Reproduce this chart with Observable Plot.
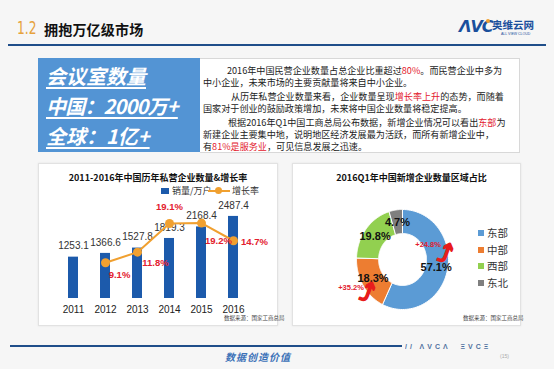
<!DOCTYPE html>
<html><head><meta charset="utf-8">
<script src="https://cdn.jsdelivr.net/npm/d3@7"></script>
<script src="https://cdn.jsdelivr.net/npm/@observablehq/plot@0.6"></script>
<style>
body{margin:0;width:554px;height:369px;overflow:hidden;background:#f6f6f6;font-family:"Liberation Sans","Noto Sans CJK SC",sans-serif;position:relative;color:#222}
.abs{position:absolute}
.red{color:#e3202e}
.panel{position:absolute;background:#fff;border:1px solid #e2e2e2;box-shadow:0 0 2px rgba(0,0,0,0.08)}
.tline{position:absolute;left:0;white-space:nowrap;font-size:9.1px;line-height:10px;font-family:"Noto Sans CJK SC",sans-serif}
.big{position:absolute;left:8px;color:#fff;font-weight:bold;font-style:italic;text-decoration:underline;text-decoration-thickness:2px;text-underline-offset:3px;font-size:20px;font-family:"Noto Sans CJK SC",sans-serif;white-space:nowrap;line-height:28px}
.leg{position:absolute;font-size:10.5px;color:#333;font-family:"Noto Sans CJK SC",sans-serif;white-space:nowrap;line-height:12px}
.sw{position:absolute;width:6px;height:6px}
.src{position:absolute;font-size:5.5px;color:#444;white-space:nowrap;font-family:"Noto Sans CJK SC",sans-serif}
</style></head><body>
<!-- header -->
<div class="abs" style="left:17px;top:18px;font-size:17px;color:#e6a23c;font-family:'Liberation Sans Narrow','DejaVu Sans Condensed',sans-serif;transform:scaleX(0.8);transform-origin:left">1.2</div>
<div class="abs" style="left:44px;top:19px;font-size:14px;font-weight:bold;color:#111;font-family:'Noto Sans CJK SC';letter-spacing:0.2px">拥抱万亿级市场</div>
<div class="abs" style="left:459px;top:17px;font-size:16px;font-weight:900;font-style:italic;color:#1a4f9c;letter-spacing:-1px;font-family:'DejaVu Sans'">ΛVC</div>
<div class="abs" style="left:486px;top:19px;width:4px;height:4px;border-radius:2px;background:#f0a030"></div>
<div class="abs" style="left:492px;top:17px;font-size:10.5px;font-weight:bold;color:#1a4f9c;font-family:'Noto Sans CJK SC'">奥维云网</div>
<div class="abs" style="left:501px;top:32px;font-size:3.5px;color:#1a4f9c;white-space:nowrap">ALL VIEW CLOUD</div>
<div class="abs" style="left:8px;top:44px;width:538px;height:2px;background:#1f4e8a"></div>

<!-- blue box -->
<div class="abs" style="left:38px;top:58px;width:162px;height:94px;background:#5394d4">
  <div class="big" style="top:4px">会议室数量</div>
  <div class="big" style="top:34px;letter-spacing:-0.8px">中国：2000万+</div>
  <div class="big" style="top:64px">全球：1亿+</div>
</div>
<!-- text box -->
<div class="abs" style="left:200px;top:58px;width:319px;height:93px;background:#fff;border:1px solid #d8d8d8;border-left:none">
  <div class="tline" style="top:5.5px;left:27px">2016年中国民营企业数量占总企业比重超过<span class="red">80%</span>。而民营企业中多为</div>
  <div class="tline" style="top:17.5px;left:3px">中小企业，未来市场的主要贡献量将来自中小企业。</div>
  <div class="tline" style="top:31.5px;left:31px">从历年私营企业数量来看，企业数量呈现<span class="red">增长率上升</span>的态势，而随着</div>
  <div class="tline" style="top:43.5px;left:3px">国家对于创业的鼓励政策增加，未来将中国企业数量将稳定提高。</div>
  <div class="tline" style="top:57.5px;left:28px">根据2016年Q1中国工商总局公布数据，新增企业情况可以看出<span class="red">东部</span>为</div>
  <div class="tline" style="top:69.5px;left:3px">新建企业主要集中地，说明地区经济发展最为活跃，而所有新增企业中，</div>
  <div class="tline" style="top:81.5px;left:3px">有<span class="red">81%是服务业</span>，可见信息发展之迅速。</div>
</div>

<!-- left panel -->
<div class="panel" id="p1" style="left:38px;top:163px;width:238px;height:161px">
  <div class="abs" style="left:0;width:238px;top:7px;text-align:center;font-size:9px;font-weight:bold;font-family:'Noto Sans CJK SC';color:#111">2011-2016年中国历年私营企业数量&amp;增长率</div>
  <div class="abs" style="left:122px;top:24px;width:8px;height:6px;background:#1c5aab"></div>
  <div class="leg" style="left:133px;top:21px;font-size:9px">销量/万户</div>
  <div class="abs" style="left:169px;top:26px;width:22px;height:2px;background:#f0a030"></div>
  <div class="abs" style="left:176px;top:23px;width:7px;height:7px;border-radius:4px;background:#f0a030"></div>
  <div class="leg" style="left:193px;top:21px;font-size:9px">增长率</div>
  <div class="src" style="left:185px;top:150px">数据来源：国家工商总局</div>
  <div id="bars" class="abs" style="left:0;top:0"></div>
  <div id="line" class="abs" style="left:0;top:0"></div>
</div>

<!-- right panel -->
<div class="panel" id="p2" style="left:292px;top:163px;width:227px;height:161px">
  <div class="abs" style="left:0;width:237px;top:7px;text-align:center;font-size:9px;font-weight:bold;font-family:'Noto Sans CJK SC';color:#111">2016Q1年中国新增企业数量区域占比</div>
  <div id="donut" class="abs" style="left:0;top:0"></div>
  <div id="dleg"></div>
  <div class="src" style="left:170px;top:150px">数据来源：国家工商总局</div>
</div>

<!-- footer -->
<div class="abs" style="left:10px;top:345px;width:392px;height:2px;background:#1f4e8a"></div>
<div class="abs" style="left:405px;top:343px;font-size:7px;font-weight:bold;color:#1f4e8a;letter-spacing:3px;opacity:0.8;white-space:nowrap">// ΛVCΛ &nbsp;ΞVCΞ</div>
<div class="abs" style="left:225px;top:349px;font-size:10px;font-style:italic;font-weight:bold;color:#3d72b8;letter-spacing:1px;font-family:'Noto Sans CJK SC'">数据创造价值</div>
<div class="abs" style="left:500px;top:353px;font-size:5px;color:#aaa">(15)</div>

<script>
// ---- data: bar + line chart ----
const years = ["2011", "2012", "2013", "2014", "2015", "2016"];
const counts = [1253.1, 1366.6, 1527.8, 1819.3, 2168.4, 2487.4];
const rateYears = ["2012", "2013", "2014", "2015", "2016"];
const rates = [9.1, 11.8, 19.1, 19.2, 14.7];
// ---- data: donut ----
const regions = ["东部", "中部", "西部", "东北"];
const shares = [57.1, 18.3, 19.8, 4.7];
const regionColors = ["#5b9bd5", "#ed7d31", "#92d050", "#7f7f7f"];
const growthRegions = ["东部", "中部"];
const growthRates = [24.8, 35.2];

const FONT = "Liberation Sans, Noto Sans CJK SC, sans-serif";
const barData = years.map((year, i) => ({year, count: counts[i]}));
const rateData = rateYears.map((year, i) => ({year, rate: rates[i]}));

const W = 238, H = 161;
const xOpts = {type: "band", domain: years, paddingInner: 0.69, paddingOuter: 0.345};
const base = {width: W, height: H, marginLeft: 18, marginRight: 28, marginTop: 35, marginBottom: 27,
  style: {fontFamily: FONT, background: "transparent", overflow: "visible"}};

const bars = Plot.plot({
  ...base,
  x: {...xOpts, tickSize: 0, tickPadding: 7, label: null, fontSize: 10},
  y: {domain: [0, 3000], axis: null},
  marks: [
    Plot.barY(barData, {x: "year", y: "count", fill: "#1c5aab"}),
    Plot.text(barData, {x: "year", y: "count", text: d => d.count.toFixed(1), dy: -11, fontSize: 10, fill: "#333"})
  ]
});
bars.querySelectorAll('g[aria-label="x-axis tick label"] text, g[aria-label="x-axis"] text').forEach(t => t.setAttribute("font-size", 10));
document.getElementById("bars").appendChild(bars);

const lab = (yr, dx, dy) => Plot.text(rateData.filter(d => d.year === yr), {
  x: "year", y: "rate", text: d => d.rate.toFixed(1) + "%", dx, dy,
  fontSize: 9.5, fontWeight: "bold", fill: "#e3202e"});
const line = Plot.plot({
  ...base,
  x: {...xOpts, axis: null},
  y: {domain: [0, 25.2], axis: null},
  marks: [
    Plot.line(rateData, {x: "year", y: "rate", stroke: "#f0a030", strokeWidth: 2}),
    Plot.dot(rateData, {x: "year", y: "rate", r: 4.5, fill: "#f0a030", stroke: "none"}),
    lab("2012", 14, 12), lab("2013", 18, 11), lab("2014", 0, -17), lab("2015", 17, 18), lab("2016", 21, 1)
  ]
});
document.getElementById("line").appendChild(line);

// ---- donut ----
const arcs = d3.pie().sort(null).value(d => d)(shares);
const R0 = 0.52, R1 = 1;
const polys = [];
arcs.forEach((a, i) => {
  const n = 80;
  for (let k = 0; k <= n; k++) {
    const t = a.startAngle + (a.endAngle - a.startAngle) * k / n;
    polys.push({region: regions[i], x: Math.sin(t) * R1, y: Math.cos(t) * R1});
  }
  for (let k = n; k >= 0; k--) {
    const t = a.startAngle + (a.endAngle - a.startAngle) * k / n;
    polys.push({region: regions[i], x: Math.sin(t) * R0, y: Math.cos(t) * R0});
  }
  polys.push({region: regions[i], x: Math.sin(a.startAngle) * R1, y: Math.cos(a.startAngle) * R1});
});
const labels = arcs.map((a, i) => {
  const m = (a.startAngle + a.endAngle) / 2;
  return {region: regions[i], share: shares[i], x: Math.sin(m) * 0.75, y: Math.cos(m) * 0.75};
});
const growth = growthRegions.map((r, i) => ({...labels.find(l => l.region === r), g: growthRates[i]}));
const gl = (r, dx, dy) => Plot.text(growth.filter(d => d.region === r), {x: "x", y: "y", text: d => "+" + d.g.toFixed(1) + "%", dx, dy, fontSize: 7.5, fontWeight: "bold", fill: "#e3202e"});
const ga = (r, dx, dy, rot) => Plot.text(growth.filter(d => d.region === r), {x: "x", y: "y", text: () => "⤴", dx, dy, rotate: rot, fontSize: 26, fontWeight: "bold", fill: "#e81c1c", stroke: "#e81c1c", strokeWidth: 1.2, fontFamily: "DejaVu Sans"});

const donut = Plot.plot({
  width: 227, height: 161, marginLeft: 63, marginRight: 72, marginTop: 45, marginBottom: 16,
  style: {fontFamily: FONT, background: "transparent", overflow: "visible"},
  x: {domain: [-1, 1], axis: null},
  y: {domain: [-1, 1], axis: null},
  color: {domain: regions, range: regionColors},
  marks: [
    Plot.line(polys, {x: "x", y: "y", z: "region", fill: "region", stroke: "#fff", strokeWidth: 1, curve: "linear"}),
    Plot.text(labels, {x: "x", y: "y", text: d => d.share.toFixed(1) + "%", fontSize: 11, fontWeight: "bold", fill: "#111"}),
    gl("东部", -8, -23), ga("东部", 9, -13, 20),
    gl("中部", -22, 9), ga("中部", -6, 14, 20)
  ]
});
document.getElementById("donut").appendChild(donut);

const dleg = document.getElementById("dleg");
regions.forEach((r, i) => {
  const top = 63 + i * 16.5;
  dleg.insertAdjacentHTML("beforeend",
    `<div class="sw" style="left:185px;top:${top + 3}px;background:${regionColors[i]}"></div>` +
    `<div class="leg" style="left:194px;top:${top}px">${r}</div>`);
});
</script>
</body></html>
